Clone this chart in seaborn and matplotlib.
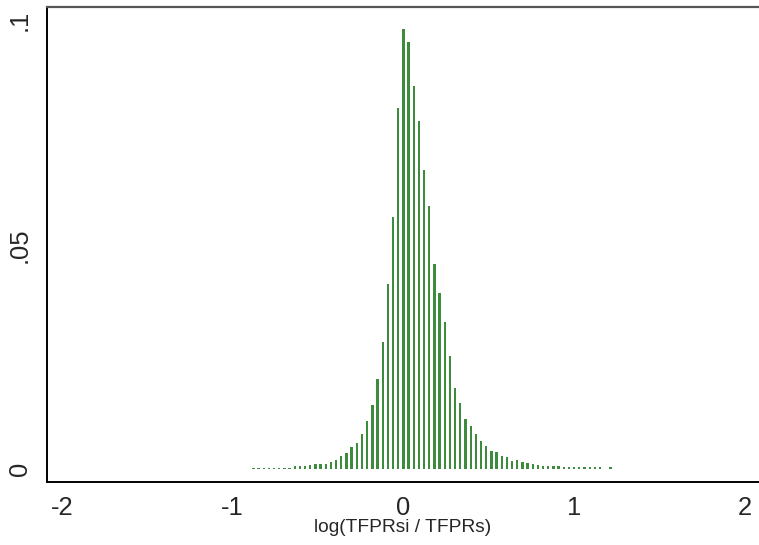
import numpy as np
import pandas as pd
import seaborn as sns
import matplotlib
matplotlib.use("Agg")
import matplotlib.pyplot as plt

# ---- data ----
bin_start = -0.878      # centre of first bin
bin_width = 0.0303
density = [
    0.0003, 0.0003, 0.0003, 0.0003, 0.0003, 0.0003, 0.0003, 0.0003,
    0.0006, 0.0006, 0.0006, 0.0009, 0.0012, 0.0012, 0.0012, 0.0016,
    0.0021, 0.0030, 0.0036, 0.0050, 0.0058, 0.0078, 0.0106, 0.0143,
    0.0200, 0.0284, 0.0413, 0.0563, 0.0806, 0.0981, 0.0953, 0.0854,
    0.0775, 0.0667, 0.0587, 0.0457, 0.0392, 0.0327, 0.0253, 0.0180,
    0.0147, 0.0112, 0.0097, 0.0077, 0.0063, 0.0052, 0.0041, 0.0037,
    0.0030, 0.0026, 0.0018, 0.0021, 0.0016, 0.0013, 0.0012, 0.0009,
    0.0007, 0.0007, 0.0007, 0.0007, 0.0004, 0.0004, 0.0004, 0.0004,
    0.0004, 0.0004, 0.0004, 0.0004, 0.0000, 0.0004,
]
x_ticks = [-2, -1, 0, 1, 2]
x_tick_labels = ["-2", "-1", "0", "1", "2"]
y_ticks = [0, 0.05, 0.1]
y_tick_labels = ["0", ".05", ".1"]
x_label = "log(TFPRsi / TFPRs)"

n = len(density)
centers = bin_start + bin_width * np.arange(n)
lo = bin_start - bin_width / 2
hi = lo + bin_width * n
df = pd.DataFrame({"x": centers, "density": density})

sns.set_style("white")
plt.rcParams["font.family"] = ["Liberation Sans", "DejaVu Sans"]

fig = plt.figure(figsize=(7.59, 5.45), dpi=100)
ax = fig.add_axes([46.7 / 759, (545 - 481.7) / 545, 1 - 46.7 / 759, (481.7 - 6.7) / 545])

sns.histplot(data=df, x="x", weights="density", binwidth=bin_width,
             binrange=(lo, hi), shrink=0.45,
             color="#3d8b3d", alpha=1, linewidth=0, stat="count", ax=ax)

ax.set_xlim(-2.088, 2.083)
ax.set_ylim(-0.00283, 0.1031)
ax.set_xticks(x_ticks)
ax.set_xticklabels(x_tick_labels, fontsize=18.4)
ax.set_yticks(y_ticks)
ax.set_yticklabels(y_tick_labels, fontsize=18.4, rotation=90, va="center")
ax.set_xlabel(x_label, fontsize=13.8, labelpad=-0.5)
ax.set_ylabel("")

ax.tick_params(axis="x", length=6.3, width=1.0, color="black", pad=3.8, direction="out")
ax.tick_params(axis="y", length=4.5, width=1.0, color="black", pad=6, direction="out")

for s in ["left", "bottom"]:
    ax.spines[s].set_color("black")
    ax.spines[s].set_linewidth(1.4)
ax.spines["top"].set_color("#555555")
ax.spines["top"].set_linewidth(1.6)
ax.spines["right"].set_visible(False)

fig.savefig("out.png", dpi=100)
